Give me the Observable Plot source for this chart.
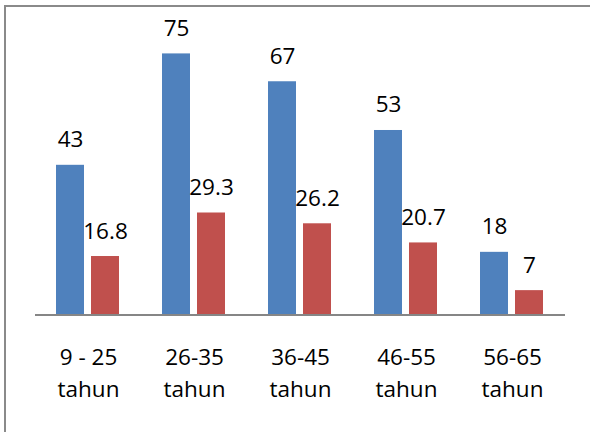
<!DOCTYPE html>
<html><head><meta charset="utf-8">
<script src="https://cdn.jsdelivr.net/npm/d3@7"></script>
<script src="https://cdn.jsdelivr.net/npm/@observablehq/plot@0.6"></script>
<style>
html,body{margin:0;padding:0;background:#fff;}
#wrap{position:relative;width:590px;height:432px;overflow:hidden;}
#frame{position:absolute;left:4px;top:5px;width:700px;height:600px;border-top:2px solid #8a8a8a;border-left:2px solid #8a8a8a;}
#wrap svg{position:absolute;left:0;top:0;}
</style></head><body><div id="wrap"><div id="frame"></div></div>
<script>
const categories = ["9 - 25\ntahun", "26-35\ntahun", "36-45\ntahun", "46-55\ntahun", "56-65\ntahun"];
const series = ["Series 1", "Series 2"];
const values1 = [43, 75, 67, 53, 18];
const values2 = [16.8, 29.3, 26.2, 20.7, 7];
const data = categories.flatMap((c, i) => [
  {cat: c, series: series[0], value: values1[i]},
  {cat: c, series: series[1], value: values2[i]}
]);
const chart = Plot.plot({
  width: 590, height: 432,
  marginLeft: 35, marginRight: 25, marginTop: 36, marginBottom: 117.5,
  style: {fontFamily: "'Open Sans', sans-serif", fontSize: "22.5px", color: "#000", background: "transparent"},
  fx: {domain: categories, paddingInner: 0.396, paddingOuter: 0.198, label: null},
  x: {domain: series, paddingInner: 0.197, paddingOuter: 0, axis: null},
  y: {domain: [0, 80], axis: null},
  color: {domain: series, range: ["#4F81BD", "#C0504D"]},
  marks: [
    Plot.barY(data, {fx: "cat", x: "series", y: "value", fill: "series"}),
    Plot.ruleY([0], {stroke: "#868686", strokeWidth: 2, insetLeft: -21, insetRight: -21}),
    Plot.text(data, {fx: "cat", x: "series", y: "value", text: "value", lineAnchor: "bottom", dy: -18, fontSize: 22.5, fill: "#000"}),
    Plot.axisFx({anchor: "bottom", tickSize: 0, tickPadding: 27.5, lineHeight: 1.42, fontSize: 22.5, fill: "#000", label: null})
  ]
});
document.getElementById("wrap").appendChild(chart);
</script>
</body></html>
